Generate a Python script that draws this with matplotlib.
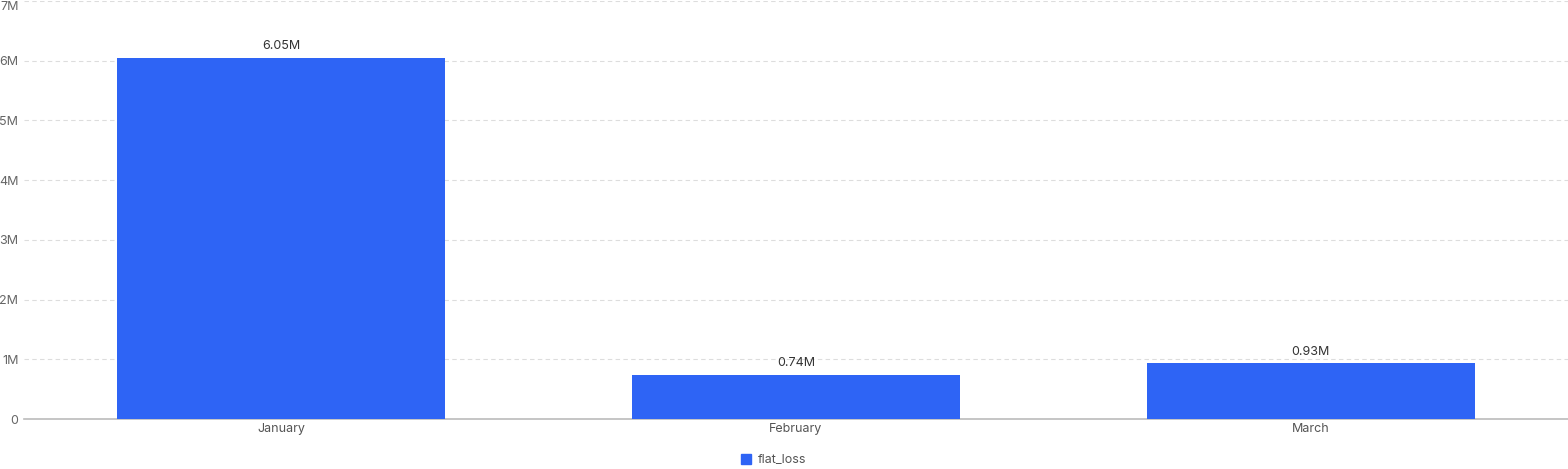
import matplotlib
matplotlib.use("Agg")
import matplotlib.pyplot as plt
from matplotlib.lines import Line2D

categories = ["January", "February", "March"]
flat_loss = [6.05e6, 0.74e6, 0.93e6]
value_labels = ["6.05M", "0.74M", "0.93M"]
yticks = [0, 1e6, 2e6, 3e6, 4e6, 5e6, 6e6, 7e6]
ytick_labels = ["0", "1M", "2M", "3M", "4M", "5M", "6M", "7M"]

plt.rcParams['font.family'] = ['Inter', 'DejaVu Sans']

W, H = 1568, 469
fig = plt.figure(figsize=(W/100, H/100), dpi=100)
left, right, top, bottom = 24, 1568, 1, 419
ax = fig.add_axes([left/W, (H-bottom)/H, (right-left)/W, (bottom-top)/H])

x = list(range(len(categories)))
color = "#2E64F5"
bars = ax.bar(x, flat_loss, width=0.637, color=color, zorder=3)
ax.set_xlim(-0.5, len(categories)-0.5)
ax.set_ylim(0, 7e6)
ax.set_yticks(yticks)
ax.set_yticklabels(ytick_labels)
ax.set_xticks(x)
ax.set_xticklabels(categories)

for b, lab in zip(bars, value_labels):
    ax.annotate(lab, (b.get_x()+b.get_width()/2, b.get_height()), xytext=(0, 4),
                textcoords="offset points", ha="center", va="bottom",
                fontsize=9, color="#333333")

ax.grid(axis="y", color="#dddddd", linestyle=(0, (4, 3)), linewidth=0.8, zorder=0)
ax.set_axisbelow(True)
for s in ["top", "right", "left"]:
    ax.spines[s].set_visible(False)
ax.spines["bottom"].set_color("#bbbbbb")
ax.spines["bottom"].set_linewidth(1.2)
ax.tick_params(axis="y", length=0, pad=4, labelsize=9, labelcolor="#666666")
ax.tick_params(axis="x", length=0, pad=3, labelsize=9, labelcolor="#555555")
ylabs = ax.get_yticklabels()
for lab in ylabs:
    lab.set_horizontalalignment("right")
ylabs[-1].set_verticalalignment("top")

handle = Line2D([], [], marker="s", linestyle="none", markersize=7.5,
                markerfacecolor=color, markeredgecolor=color)
fig.legend([handle], ["flat_loss"], loc="center", bbox_to_anchor=(773/W, 1-460/H),
           frameon=False, fontsize=9, handletextpad=0.4, handlelength=1.0,
           labelcolor="#555555")

fig.savefig("out.png", dpi=100)
